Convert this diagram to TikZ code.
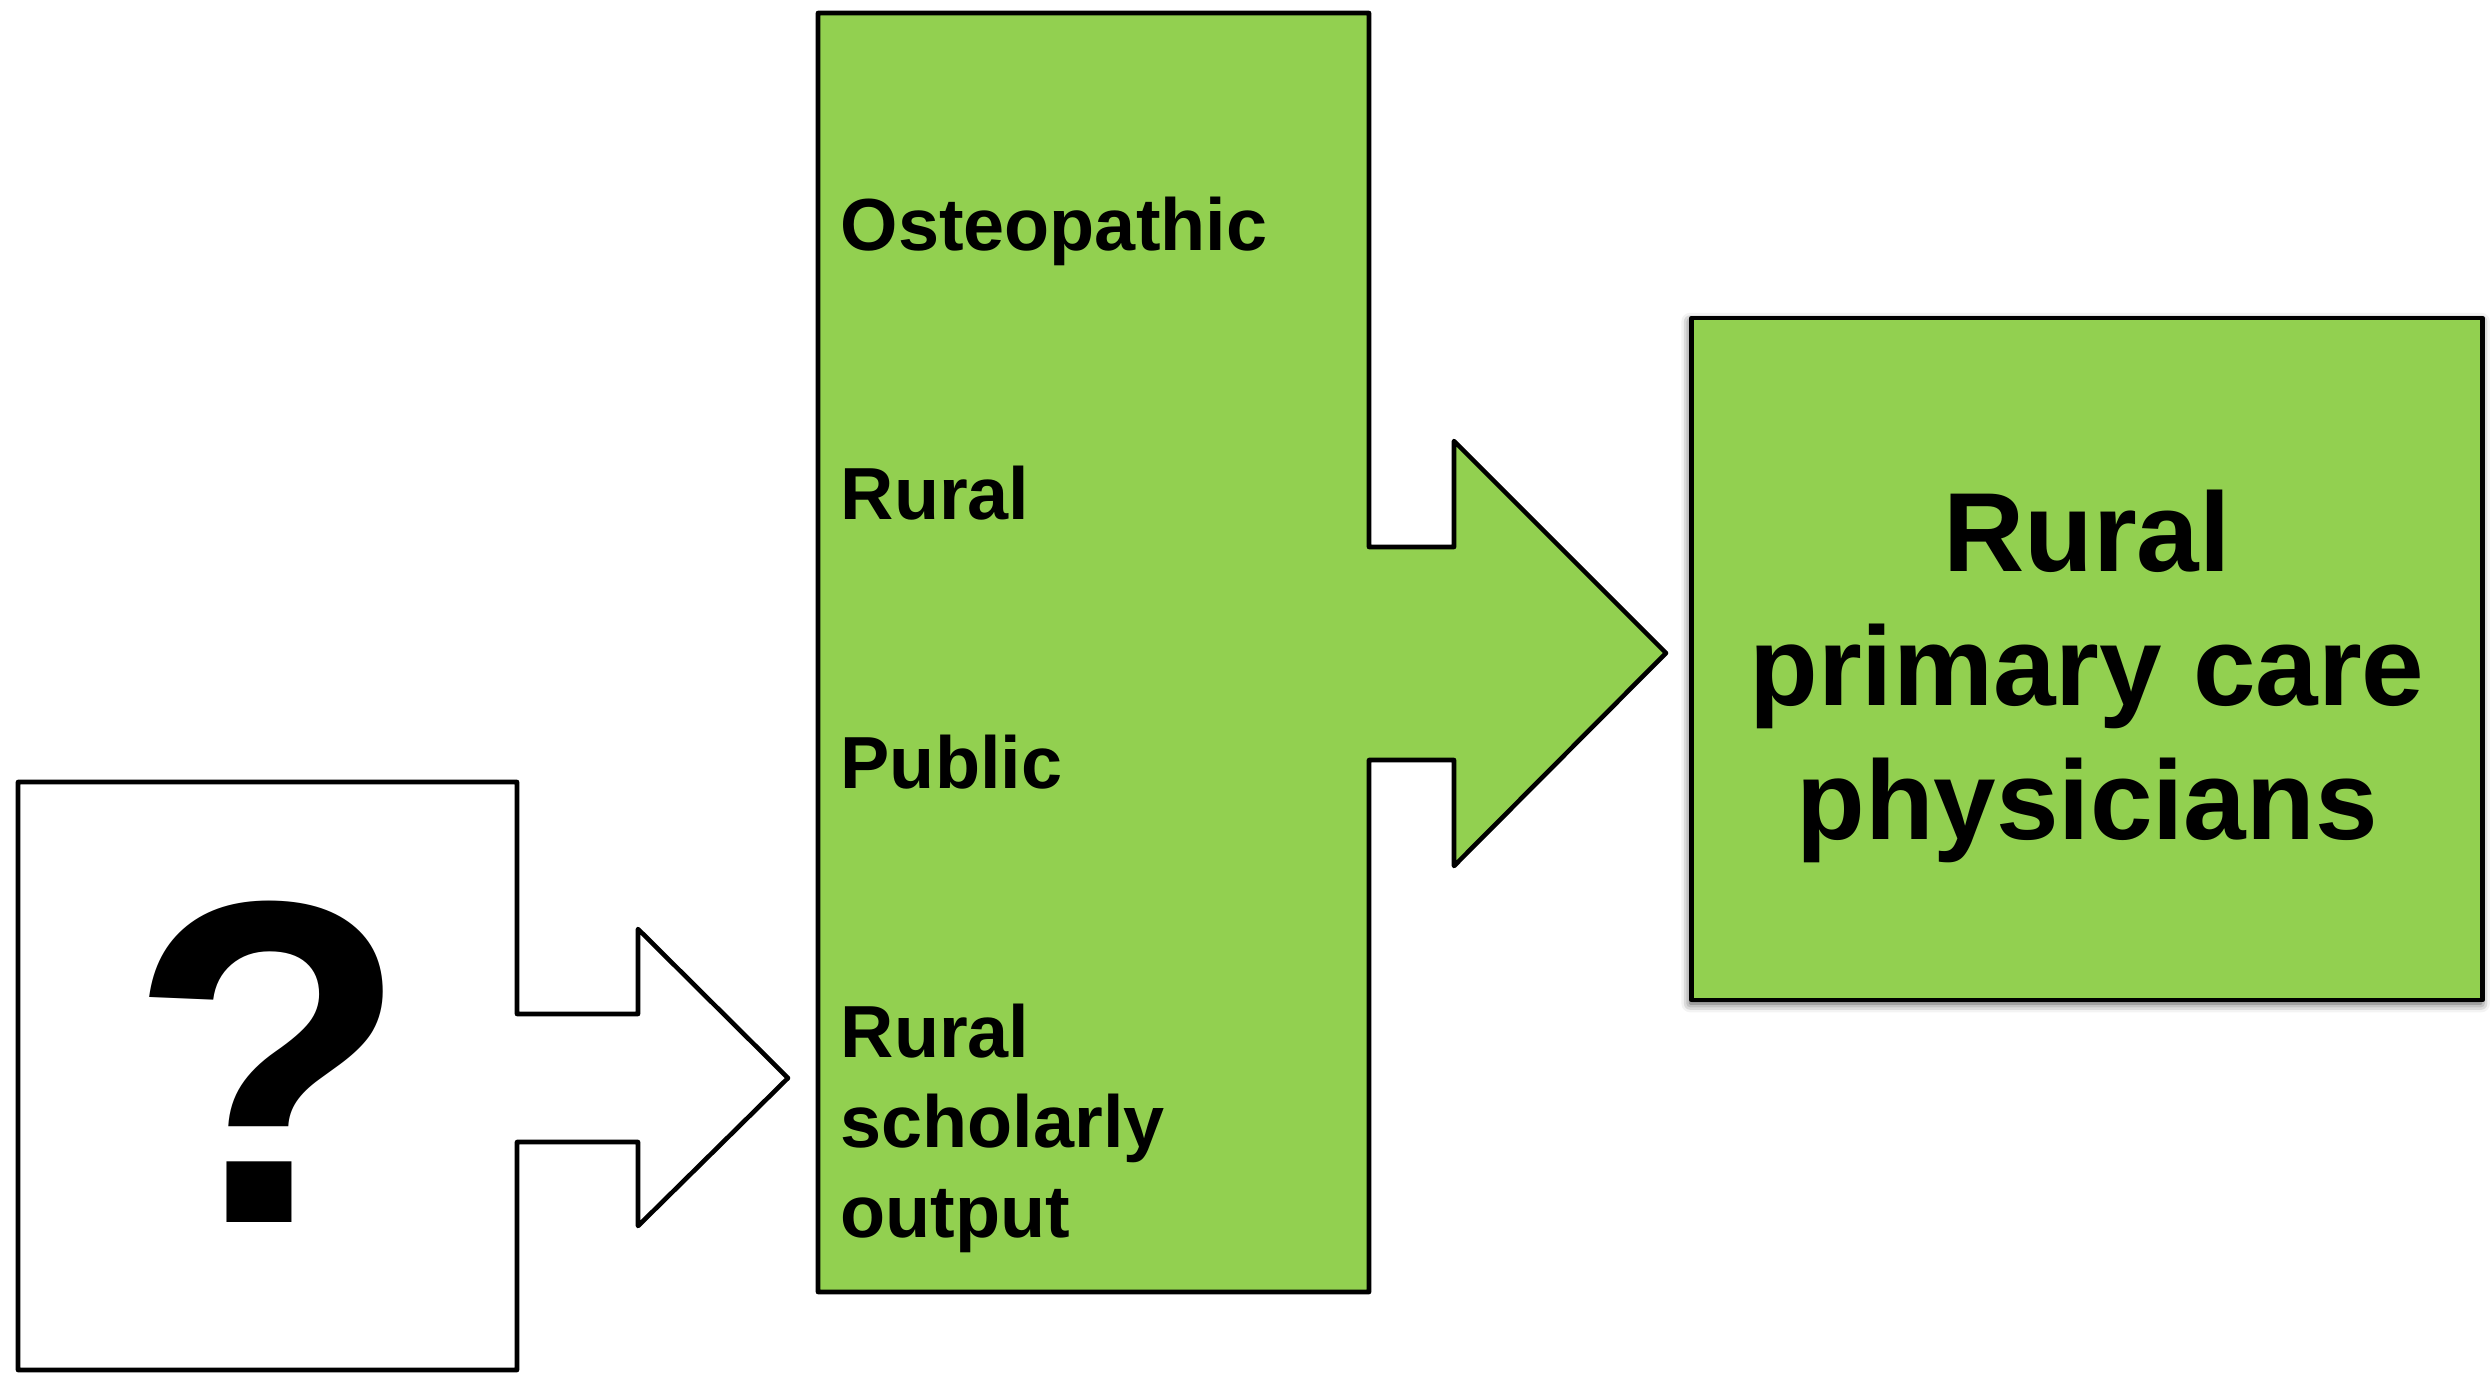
\documentclass[tikz,border=0pt]{standalone}
\usepackage{fontspec}
\setmainfont{Liberation Sans}
\usepackage{xcolor}
\usetikzlibrary{positioning, shadows.blur}

\definecolor{leafgreen}{RGB}{146,208,80}

\begin{document}
\begin{tikzpicture}[
        x=0.1mm, y=-0.1mm,
        outline/.style={draw=black, line width=1.3pt, line join=round},
        factor/.style={inner sep=0pt, align=left, font=\fontsize{21}{25.6}\selectfont\bfseries},
        outcome/.style={outline, fill=leafgreen, minimum width=79.1mm, minimum height=68.2mm, inner sep=0pt,
            blur shadow={shadow xshift=-0.4pt, shadow yshift=-1pt, shadow blur radius=2.5pt, shadow opacity=75}},
        ]
        \useasboundingbox (0,0) rectangle (2492,1372);

        % unknown input with its arrow
        \draw[outline, fill=white] (18,1370) -- (18,782) -- (517,782) -- (517,1014) -- (638,1014) -- (638,929)
            -- (788,1078) -- (638,1226) -- (638,1142) -- (517,1142) -- (517,1370) -- cycle;
        \node[inner sep=0pt, font=\fontsize{131}{135}\selectfont\bfseries] (query) at (269,1062) {?};

        % school characteristics with its arrow
        \draw[outline, fill=leafgreen] (818,13) -- (1369,13) -- (1369,547) -- (1454,547) -- (1454,441)
            -- (1666,653) -- (1454,866) -- (1454,760) -- (1369,760) -- (1369,1292) -- (818,1292) -- cycle;
        \node[factor, anchor=base west] (osteo) at (840,250) {Osteopathic};
        \node[factor, below=26.9mm of osteo.base west, anchor=base west] (rural) {Rural};
        \node[factor, below=26.9mm of rural.base west, anchor=base west] (public) {Public};
        % base of a multi-line node is its last line
        \node[factor, below=44.9mm of public.base west, anchor=base west] (scholar) {Rural\\scholarly\\output};

        % outcome
        \node[outcome] (physicians) at (2087,659) {};
        \node[inner sep=0pt, align=center, font=\fontsize{32}{38.1}\selectfont\bfseries] (physlabel)
            at ([yshift=-1.7mm]physicians.center) {Rural\\primary care\\physicians};
    \end{tikzpicture}
\end{document}
